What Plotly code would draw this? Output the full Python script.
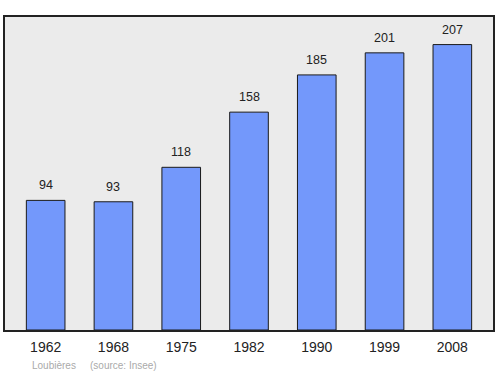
import plotly.graph_objects as go

years = ["1962", "1968", "1975", "1982", "1990", "1999", "2008"]
population = [94, 93, 118, 158, 185, 201, 207]
commune = "Loubières"
source = "(source: Insee)"

fig = go.Figure()
fig.add_trace(go.Bar(
    x=list(range(len(years))), y=population,
    width=0.57,
    marker=dict(color="#7398fb", line=dict(color="#1a1a1a", width=1)),
    hoverinfo="skip",
))
for i, v in enumerate(population):
    fig.add_annotation(x=i, y=v, text=str(v), showarrow=False, yanchor="bottom", yshift=6,
                       font=dict(size=12.5, color="#222", family="Liberation Sans"))

cap_y = -(365 - 330) / 313
fig.add_annotation(xref="paper", yref="paper", x=(30 - 5) / 490, y=cap_y, xanchor="left", yanchor="middle",
                   text=commune, showarrow=False, font=dict(size=10, color="#aaaaaa", family="Liberation Sans"))
fig.add_annotation(xref="paper", yref="paper", x=(88 - 5) / 490, y=cap_y, xanchor="left", yanchor="middle",
                   text=source, showarrow=False, font=dict(size=10, color="#aaaaaa", family="Liberation Sans"))

fig.update_layout(
    width=500, height=374,
    margin=dict(l=5, r=5, t=17, b=44),
    paper_bgcolor="white", plot_bgcolor="#ebebeb",
    showlegend=False,
    font=dict(family="Liberation Sans"),
    xaxis=dict(range=[-0.6, 6.6], tickmode="array", tickvals=list(range(len(years))), ticktext=years,
               showgrid=False, zeroline=False, showline=True, mirror=True, linecolor="#222", linewidth=1.5,
               ticks="outside", ticklen=3, tickcolor="rgba(0,0,0,0)",
               tickfont=dict(size=14, color="#222", family="Liberation Sans")),
    yaxis=dict(range=[0, 227], showgrid=False, zeroline=False, showticklabels=False,
               showline=True, mirror=True, linecolor="#222", linewidth=1.5),
)
fig.write_html("out.html", config={"displayModeBar": False},
               post_script="document.body.style.margin='0';document.body.style.overflow='hidden';")
